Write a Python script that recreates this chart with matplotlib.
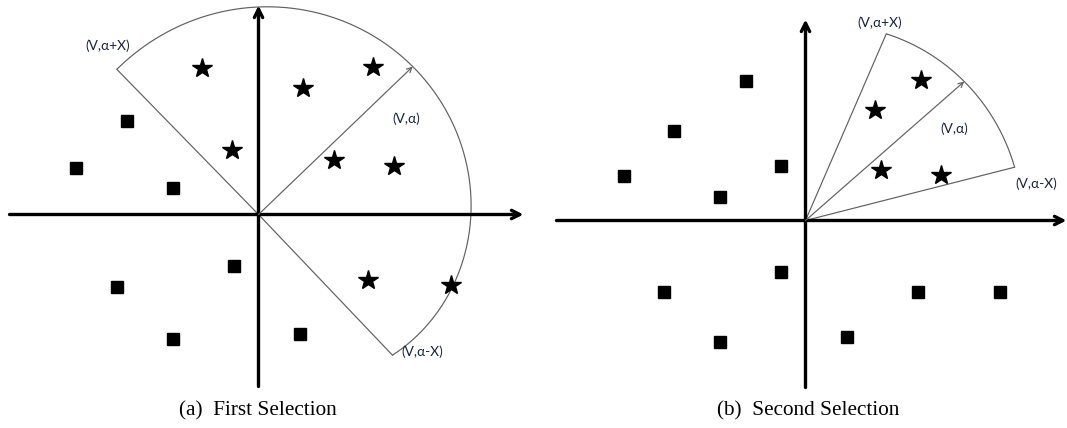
import numpy as np
import matplotlib
matplotlib.use("Agg")
import matplotlib.pyplot as plt

# ---------------- data (pixel-scale units, origin at axes cross, y up) -------------
# Panel (a): First Selection
a_star_x = [-56.8, 114.9, 44.6, -27.0, 75.1, 135.2, 109.9, 192.7]
a_star_y = [146.7, 147.3, 126.7, 64.3, 54.3, 48.3, -65.0, -70.7]
a_sq_x = [-131.2, -182.6, -85.2, -24.7, -141.3, -85.2, 41.2]
a_sq_y = [93.3, 47.0, 26.3, -51.7, -72.3, -124.3, -119.0]
# sector (angles in degrees) and arc radius knots
a_alpha, a_lo, a_hi = 43.8, -46.4, 134.3
a_arc_deg = [134.3, 90.0, 43.8, 0.0, -20.0, -46.4]
a_arc_r = [203.0, 207.0, 214.0, 214.0, 205.0, 195.0]
a_labels = ["(V,\u03b1+X)", "(V,\u03b1)", "(V,\u03b1-X)"]
a_label_x = [-151.0, 148.0, 164.0]
a_label_y = [169.0, 96.0, -137.5]

# Panel (b): Second Selection
b_star_x = [115.3, 69.6, 75.0, 135.5]
b_star_y = [141.0, 110.7, 50.7, 45.7]
b_sq_x = [-59.8, -131.1, -181.8, -24.9, -85.4, -24.9, -141.2, -85.4, 41.3, 112.6, 194.3]
b_sq_y = [140.0, 89.3, 44.3, 55.0, 24.0, -51.7, -71.0, -121.7, -116.7, -71.7, -71.7]
b_alpha, b_lo, b_hi = 41.2, 14.3, 66.6
b_arc_deg = [66.6, 41.2, 14.3]
b_arc_r = [203.4, 211.0, 215.8]
b_labels = ["(V,\u03b1+X)", "(V,\u03b1)", "(V,\u03b1-X)"]
b_label_x = [74.5, 148.5, 230.5]
b_label_y = [197.5, 91.5, 36.5]

captions = ["(a)  First Selection", "(b)  Second Selection"]

# ---------------- figure ----------------
W, H = 1067, 428
fig = plt.figure(figsize=(W / 100, H / 100), dpi=100)

LABEL_COLOR = "#17213a"
LINE_GRAY = "#606060"


def make_panel(left_px, right_px, ox, oy, xext, yext):
    ax = fig.add_axes([left_px / W, 0, (right_px - left_px) / W, 1])
    ax.set_xlim(left_px - ox, right_px - ox)
    ax.set_ylim(oy - H, oy)
    ax.set_axis_off()
    ax.annotate("", xy=(xext[1], 0), xytext=(xext[0], 0),
                arrowprops=dict(arrowstyle="->", lw=2.4, color="black",
                                mutation_scale=15, shrinkA=0, shrinkB=0),
                annotation_clip=False)
    ax.annotate("", xy=(0, yext[1]), xytext=(0, yext[0]),
                arrowprops=dict(arrowstyle="->", lw=2.4, color="black",
                                mutation_scale=15, shrinkA=0, shrinkB=0),
                annotation_clip=False)
    return ax


def draw_sector(ax, lo, hi, alpha, knots_deg, knots_r):
    deg = len(knots_deg) - 1 if len(knots_deg) <= 3 else 3
    coef = np.polyfit(knots_deg, knots_r, deg)
    th = np.linspace(lo, hi, 300)
    r = np.polyval(coef, th)
    ax.plot(r * np.cos(np.radians(th)), r * np.sin(np.radians(th)),
            color=LINE_GRAY, lw=0.85, solid_capstyle="butt", zorder=2)
    for t in (lo, hi):
        rr = np.polyval(coef, t)
        ax.plot([0, rr * np.cos(np.radians(t))], [0, rr * np.sin(np.radians(t))],
                color=LINE_GRAY, lw=0.85, zorder=2)
    ra = np.polyval(coef, alpha)
    ax.annotate("", xy=(ra * np.cos(np.radians(alpha)), ra * np.sin(np.radians(alpha))),
                xytext=(0, 0),
                arrowprops=dict(arrowstyle="->", lw=0.85, color=LINE_GRAY,
                                mutation_scale=9, shrinkA=0, shrinkB=0))


def draw_points(ax, sx, sy, qx, qy):
    ax.plot(sx, sy, linestyle="none", marker="*", markersize=15,
            color="black", zorder=5)
    ax.plot(qx, qy, linestyle="none", marker="s", markersize=8.6,
            color="black", zorder=5)


def draw_labels(ax, labels, lx, ly):
    for t, x, y in zip(labels, lx, ly):
        ax.text(x, y, t, ha="center", va="center", fontsize=9.8,
                family=["Lato", "DejaVu Sans"], color=LABEL_COLOR, zorder=6)


# Panel (a)
ax_a = make_panel(0, 533, 258.5, 214.5, (-249.0, 265.0), (-172.0, 209.0))
draw_sector(ax_a, a_lo, a_hi, a_alpha, a_arc_deg, a_arc_r)
draw_points(ax_a, a_star_x, a_star_y, a_sq_x, a_sq_y)
draw_labels(ax_a, a_labels, a_label_x, a_label_y)

# Panel (b)
ax_b = make_panel(533, 1067, 805.5, 220.5, (-249.0, 261.0), (-167.0, 201.0))
draw_sector(ax_b, b_lo, b_hi, b_alpha, b_arc_deg, b_arc_r)
draw_points(ax_b, b_star_x, b_star_y, b_sq_x, b_sq_y)
draw_labels(ax_b, b_labels, b_label_x, b_label_y)

# captions
for cx, cap in zip([258, 808], captions):
    fig.text(cx / W, 1 - 411 / H, cap, ha="center", va="center",
             fontsize=15.3, family=["Liberation Serif", "DejaVu Serif"])

fig.savefig("out.png", dpi=100)
